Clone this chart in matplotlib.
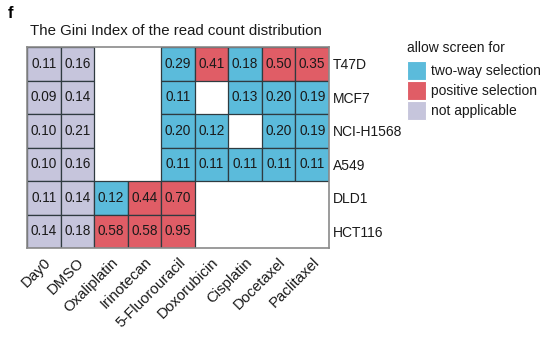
import numpy as np
import matplotlib
matplotlib.use("Agg")
import matplotlib.pyplot as plt
from matplotlib.patches import Rectangle
import matplotlib.transforms as mtrans

plt.rcParams['font.family'] = ['Liberation Sans', 'DejaVu Sans']

drugs = ["Day0", "DMSO", "Oxaliplatin", "Irinotecan", "5-Fluorouracil",
         "Doxorubicin", "Cisplatin", "Docetaxel", "Paclitaxel"]
cell_lines = ["T47D", "MCF7", "NCI-H1568", "A549", "DLD1", "HCT116"]

nan = np.nan
gini = [
    [0.11, 0.16, nan, nan, 0.29, 0.41, 0.18, 0.50, 0.35],
    [0.09, 0.14, nan, nan, 0.11, nan, 0.13, 0.20, 0.19],
    [0.10, 0.21, nan, nan, 0.20, 0.12, nan, 0.20, 0.19],
    [0.10, 0.16, nan, nan, 0.11, 0.11, 0.11, 0.11, 0.11],
    [0.11, 0.14, 0.12, 0.44, 0.70, nan, nan, nan, nan],
    [0.14, 0.18, 0.58, 0.58, 0.95, nan, nan, nan, nan],
]
# N = not applicable, T = two-way, P = positive, '' = none
screen = [
    ["N", "N", "", "", "T", "P", "T", "P", "P"],
    ["N", "N", "", "", "T", "", "T", "T", "T"],
    ["N", "N", "", "", "T", "T", "", "T", "T"],
    ["N", "N", "", "", "T", "T", "T", "T", "T"],
    ["N", "N", "T", "P", "P", "", "", "", ""],
    ["N", "N", "P", "P", "P", "", "", "", ""],
]
legend_labels = ["two-way selection", "positive selection", "not applicable"]
colors = {"T": "#5BBBDB", "P": "#E05D66", "N": "#C6C5DC"}

fig = plt.figure(figsize=(5.56, 3.39), dpi=100)
W, H = 556, 339
x0, x1, y0, y1 = 27, 329, 47, 248
ax = fig.add_axes([x0 / W, 1 - y1 / H, (x1 - x0) / W, (y1 - y0) / H])
nr, nc = len(cell_lines), len(drugs)
ax.set_xlim(-0.5, nc - 0.5)
ax.set_ylim(nr - 0.5, -0.5)

for i in range(nr):
    for j in range(nc):
        k = screen[i][j]
        if k:
            ax.add_patch(Rectangle((j - 0.5, i - 0.5), 1, 1, facecolor=colors[k],
                                   edgecolor="#2f3b40", linewidth=0.9, zorder=1))
        v = gini[i][j]
        if not np.isnan(v):
            ax.text(j, i, f"{v:.2f}", ha="center", va="center", fontsize=9.8,
                    color="#1a1a1a", zorder=3)

for s in ax.spines.values():
    s.set_color("#8a8a8a")
    s.set_linewidth(1.2)
    s.set_zorder(4)

ax.set_xticks(range(nc))
ax.set_xticklabels(drugs, rotation=45, ha="right", va="top",
                   rotation_mode="anchor", fontsize=10.8, color="#1a1a1a")
shift = mtrans.ScaledTranslation(5 / 100, 0, fig.dpi_scale_trans)
for lbl in ax.get_xticklabels():
    lbl.set_transform(lbl.get_transform() + shift)
ax.set_yticks(range(nr))
ax.set_yticklabels(cell_lines, fontsize=10, color="#1a1a1a")
ax.yaxis.tick_right()
ax.tick_params(axis="both", length=0, pad=3)
ax.tick_params(axis="x", pad=5)

fig.text(8 / W, 1 - 14 / H, "f", fontsize=12, fontweight="bold",
         ha="left", va="center")
fig.text(30 / W, 1 - 31 / H, "The Gini Index of the read count distribution",
         fontsize=10.8, ha="left", va="center", color="#1a1a1a")

# legend
fig.text(407 / W, 1 - 48 / H, "allow screen for", fontsize=10,
         ha="left", va="center", color="#1a1a1a")
for n, (lab, key) in enumerate(zip(legend_labels, ["T", "P", "N"])):
    top = 61 + n * 20
    fig.patches.append(Rectangle((407 / W, 1 - (top + 19) / H), 19 / W, 19 / H,
                                 transform=fig.transFigure, facecolor=colors[key],
                                 edgecolor="white", linewidth=0.8))
    fig.text(431 / W, 1 - (top + 10) / H, lab, fontsize=10, ha="left",
             va="center", color="#1a1a1a")

fig.savefig("out.png", dpi=100)
